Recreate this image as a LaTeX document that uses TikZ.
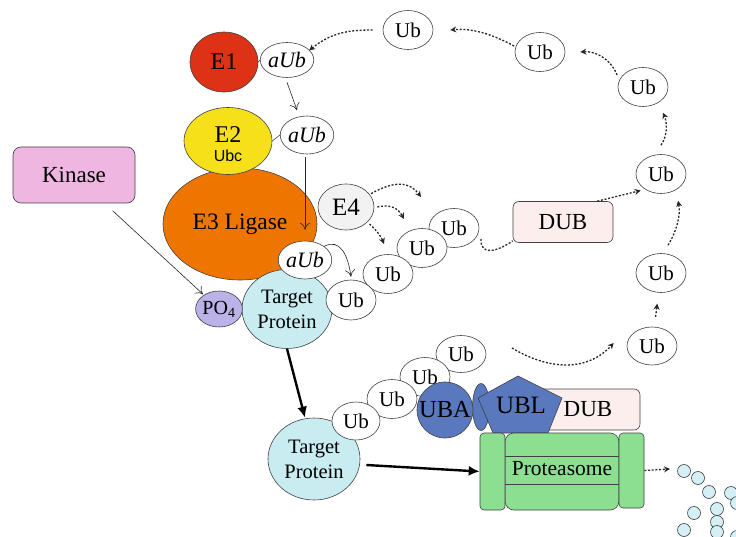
\documentclass[tikz,border=0pt]{standalone}
\usepackage{fontspec}
\setmainfont{Liberation Serif}
\newfontfamily\sansf{Liberation Sans}
\usetikzlibrary{shapes.geometric,arrows.meta}
\definecolor{eonered}{RGB}{222,50,22}
\definecolor{etwoyel}{RGB}{245,224,25}
\definecolor{ethreeor}{RGB}{238,118,0}
\definecolor{tpcyan}{RGB}{200,236,240}
\definecolor{pofour}{RGB}{187,178,232}
\definecolor{efourgray}{RGB}{242,242,242}
\definecolor{dubpink}{RGB}{253,238,238}
\definecolor{ublue}{RGB}{90,120,190}
\definecolor{protgreen}{RGB}{140,222,145}
\definecolor{kinpink}{RGB}{238,182,225}
\definecolor{pepcyan}{RGB}{212,240,244}
\begin{document}
\begin{tikzpicture}[x=1pt,y=-1pt,
  outl/.style={draw=black!75, line width=0.6pt},
  ubnode/.style={outl, ellipse, fill=white, minimum width=50pt, minimum height=39pt, inner sep=0pt, font=\fontsize{21}{21}\selectfont},
  aubnode/.style={ubnode, font=\fontsize{22}{22}\selectfont\itshape},
  thinarr/.style={draw=black!85, line width=0.6pt, -{To[length=7pt,width=10pt]}},
  dotarr/.style={draw=black!85, line width=1.3pt, dash pattern=on 2pt off 1.7pt, -{Stealth[length=6pt,width=6pt]}},
  dotline/.style={draw=black!85, line width=1.3pt, dash pattern=on 2pt off 1.7pt},
  thickarr/.style={draw=black, line width=2.4pt, -{Latex[length=11pt,width=10pt]}},
  pep/.style={outl, circle, fill=pepcyan, minimum size=13pt, inner sep=0pt},
  tpnode/.style={outl, ellipse, fill=tpcyan, inner sep=0pt, align=center, font=\fontsize{20.5}{25}\selectfont},
  boxnode/.style={outl, rectangle, rounded corners=6pt, inner sep=0pt},
  capnode/.style={outl, rectangle, rounded corners=4pt, fill=protgreen, minimum width=25pt, inner sep=0pt}
]
\useasboundingbox (0,0) rectangle (736,537);

% E1 and aUb
\node[outl, ellipse, fill=eonered, minimum width=68pt, minimum height=60pt, inner sep=0pt, font=\fontsize{24}{24}\selectfont] (e1) at (224,62) {E1};
\node[aubnode, minimum height=35pt] (aub1) at (287,60) {aUb};
\draw[outl] (e1.east) -- (aub1.west);

% E3, E2
\node[outl, ellipse, fill=ethreeor, minimum width=154pt, minimum height=112pt, inner sep=0pt, font=\fontsize{23.5}{23.5}\selectfont] (e3) at (240,224) {E3 Ligase};
\node[outl, ellipse, fill=etwoyel, minimum width=88pt, minimum height=67pt, inner sep=0pt] (e2) at (228,141) {};
\node[font=\fontsize{24}{24}\selectfont, inner sep=0pt] (e2t) at (228,135) {E2};
\node[font=\sansf\fontsize{16}{16}\selectfont, inner sep=0pt] (e2u) at (228,155.5) {Ubc};
\node[aubnode, minimum height=38pt] (aub2) at (307,135) {aUb};
\draw[outl] (e2.east) -- (aub2.west);

% Kinase
\node[boxnode, fill=kinpink, minimum width=122pt, minimum height=56pt, rounded corners=8pt, font=\fontsize{23}{23}\selectfont] (kinase) at (74,175) {Kinase};

% upper target protein
\node[tpnode, minimum width=90pt, minimum height=79pt] (tp1) at (287,309) {Target\\Protein};
\node[outl, ellipse, fill=pofour, minimum width=46pt, minimum height=36pt, inner sep=0pt, font=\fontsize{20}{20}\selectfont] (po4) at (219,309) {PO\textsubscript{4}};

% Ub chain (upper)
\node[ubnode] (ub4) at (454,228) {Ub};
\node[ubnode] (ub3) at (422,248) {Ub};
\node[ubnode] (ub2) at (388,274) {Ub};
\node[ubnode, minimum height=40pt] (ub1) at (351,300) {Ub};
\node[aubnode, minimum height=38pt] (aub3) at (305,260) {aUb};

% E4
\node[outl, ellipse, fill=efourgray, minimum width=56pt, minimum height=46pt, inner sep=0pt, font=\fontsize{25}{25}\selectfont] (e4) at (346,207) {E4};

% DUB top
\node[boxnode, fill=dubpink, minimum width=100pt, minimum height=41pt, font=\fontsize{23}{23}\selectfont] (dub1) at (563,222) {DUB};

% recycled Ub
\node[ubnode] (ubtop) at (408,30) {Ub};
\node[ubnode] (ur1) at (540,52) {Ub};
\node[ubnode] (ur2) at (643,87) {Ub};
\node[ubnode] (ur3) at (661,174) {Ub};
\node[ubnode] (ur4) at (661,273) {Ub};
\node[ubnode, minimum height=38pt] (ur5) at (652,346) {Ub};

% lower target protein and chain
\node[tpnode, minimum width=92pt, minimum height=82pt] (tp2) at (314,459) {Target\\Protein};
\node[ubnode, minimum width=50pt, minimum height=37pt] (lb4) at (461,354) {Ub};
\node[ubnode, minimum height=39pt] (lb3) at (425,377) {Ub};
\node[ubnode, minimum height=39pt] (lb2) at (392,399) {Ub};
\node[ubnode, minimum width=48pt, minimum height=38pt] (lb1) at (356,421) {Ub};

% UBA, linker, DUB, UBL
\node[outl, ellipse, fill=ublue, minimum width=17pt, minimum height=47pt, inner sep=0pt] (link) at (481,407) {};
\node[boxnode, fill=dubpink, minimum width=104pt, minimum height=41pt, font=\fontsize{23}{23}\selectfont] (dub2) at (588,409.5) {DUB};
\node[outl, circle, fill=ublue, minimum size=56pt, inner sep=0pt, font=\fontsize{24.5}{24.5}\selectfont] (uba) at (445,410) {UBA};
\draw[outl, fill=ublue] (518,376) -- (562,398) -- (548,433) -- (493,433) -- (478,398) -- cycle;
\node[font=\fontsize{25}{25}\selectfont, inner sep=0pt] (ubl) at (521,405) {UBL};

% Proteasome
\node[outl, rectangle, rounded corners=9pt, fill=protgreen, minimum width=114pt, minimum height=77pt, inner sep=0pt] (prot) at (562,471.5) {};
\draw[outl] (prot.west |- 0,456) -- (prot.east |- 0,456);
\draw[outl] (prot.west |- 0,484) -- (prot.east |- 0,484);
\node[font=\fontsize{21.5}{21.5}\selectfont, inner sep=0pt] (prott) at (562,469) {Proteasome};
\node[capnode, minimum height=77pt] (protL) at (492.5,471.5) {};
\node[capnode, minimum height=75pt] (protR) at (631.5,470.5) {};

% peptides
\foreach \px/\py [count=\i] in {684/471, 698/478, 709/492, 731/493, 737/503, 694/513, 717/509, 717/522, 684/530, 717/532, 737/537}
  \node[pep] (pep\i) at (\px,\py) {};

% free end coordinates
\coordinate (e4a) at (421,197);
\coordinate (e4b) at (404,219);
\coordinate (e4c) at (384,244);
\coordinate (lowstart) at (512,348);
\coordinate (ubchainend) at (481,239);
\coordinate (pepend) at (670,469);

% solid thin arrows
\draw[thinarr] ([yshift=-4.5pt]aub1.south) -- ([xshift=-10pt,yshift=5.5pt]aub2.north);
\draw[thinarr] ([xshift=-2pt,yshift=-3pt]aub2.south) -- ([yshift=11pt]aub3.north);
\draw[thinarr] (aub3.north east) .. controls (340,238) and (348,255) .. ([yshift=3pt]ub1.north);
\draw[thinarr, shorten <=11pt, shorten >=1pt] (kinase) -- (po4);

% E4 dotted arrows
\draw[dotarr] ([xshift=2pt]e4.30) .. controls (395,180) and (410,182) .. (e4a);
\draw[dotarr] ([xshift=3pt]e4.east) .. controls (390,204) and (398,208) .. (e4b);
\draw[dotarr] ([xshift=2pt,yshift=-2pt]e4.-35) .. controls (376,230) and (381,236) .. (e4c);

% Ub chain to DUB
\draw[dotline] (ubchainend) .. controls (480,256) and (497,252) .. ([yshift=2pt]dub1.south west);
\draw[dotarr] ([xshift=-16pt]dub1.north east) -- ([xshift=-3pt,yshift=-2pt]ur3.-140);

% recycle loop
\draw[dotarr, shorten <=10pt, shorten >=11pt] (ur5) -- (ur4);
\draw[dotarr] ([xshift=7pt,yshift=8pt]ur4.north) .. controls (676,233) and (681,215) .. ([xshift=17pt,yshift=-7pt]ur3.south);
\draw[dotarr] ([yshift=9pt]ur3.north) .. controls (668,135) and (667,122) .. ([xshift=20pt,yshift=-6pt]ur2.south);
\draw[dotarr] ([xshift=-8pt,yshift=-2pt]ur2.north west) .. controls (610,58) and (595,51) .. ([xshift=15pt]ur1.east);
\draw[dotarr] ([xshift=-8pt,yshift=-8pt]ur1.north west) .. controls (492,34) and (472,28) .. ([xshift=17pt]ubtop.east);
\draw[dotarr] ([xshift=-10pt]ubtop.west) .. controls (350,30) and (332,32) .. ([xshift=3pt,yshift=-3pt]aub1.north east);
\draw[dotarr] (lowstart) .. controls (545,368) and (585,374) .. ([xshift=-13pt,yshift=3pt]ur5.west);

% thick arrows
\draw[thickarr] (tp1.south) -- ([xshift=-9pt]tp2.north);
\draw[thickarr] ([xshift=6pt,yshift=-6pt]tp2.east) -- (protL.west);
\draw[dotarr] (protR.east) -- (pepend);
\end{tikzpicture}
\end{document}
